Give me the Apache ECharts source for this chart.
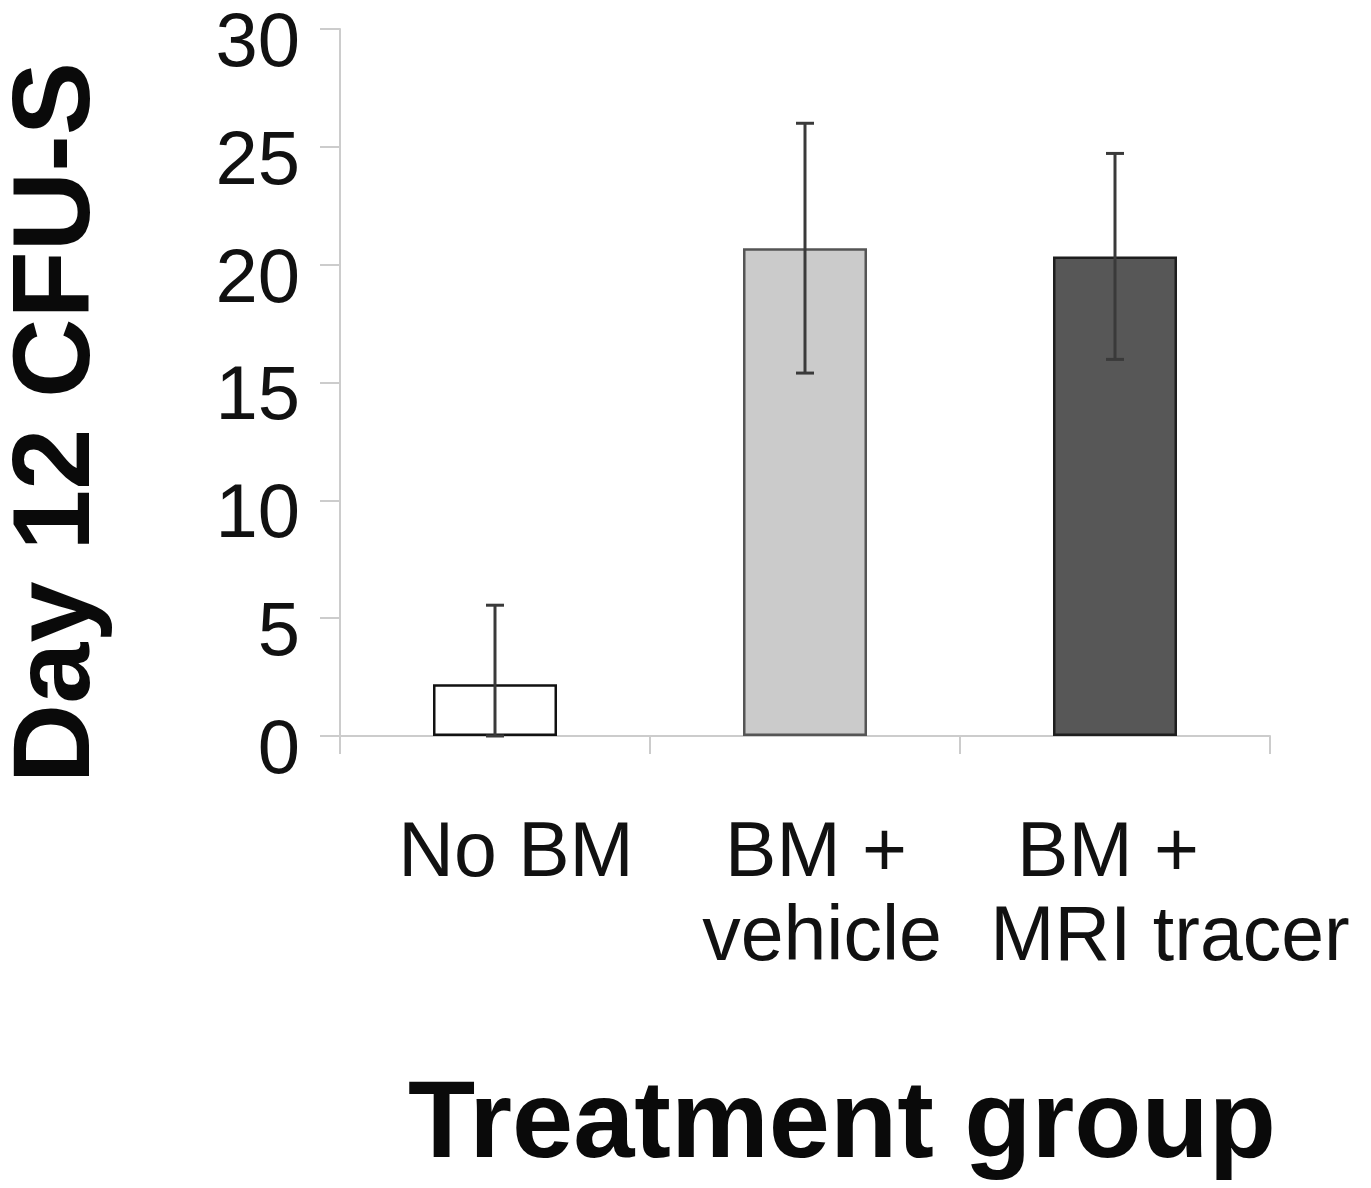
<!DOCTYPE html>
<html>
<head>
<meta charset="utf-8">
<script src="https://cdn.jsdelivr.net/npm/echarts@6/dist/echarts.min.js"></script>
<style>html,body{margin:0;padding:0;background:#fff;}#c{width:1371px;height:1188px;}</style>
</head>
<body>
<div id="c"></div>
<script>
// ---- data ----
var categories = ['No BM', 'BM +\nvehicle', 'BM +\nMRI tracer'];
var means = [2.2, 20.7, 20.35];
var errors = [3.35, 5.3, 4.37];
var yTicks = [0, 5, 10, 15, 20, 25, 30];

// ---- styles ----
var fills = ['#ffffff', '#cbcbcb', '#575757'];
var borders = ['#111111', '#555555', '#1e1e1e'];
var FONT = '"Liberation Sans", Arial, sans-serif';

var chart = echarts.init(document.getElementById('c'), null, {renderer: 'canvas'});

var barData = means.map(function (v, i) {
  return {value: v, itemStyle: {color: fills[i], borderColor: borders[i], borderWidth: 2.5}};
});
var errData = means.map(function (v, i) {
  return [i, Math.max(0, v - errors[i]), v + errors[i]];
});

var labelRich = {
  nb: {padding: [0, 0, 0, 42]},
  bv1: {padding: [0, 0, 0, 22]},
  bv2: {padding: [0, 0, 0, 34]},
  bm1: {padding: [0, 14, 0, 0]},
  bm2: {padding: [0, 0, 0, 110]}
};
var richKeys = [['nb'], ['bv1', 'bv2'], ['bm1', 'bm2']];

chart.setOption({
  animation: false,
  backgroundColor: '#ffffff',
  grid: {left: 340, right: 101, top: 29, bottom: 452, containLabel: false, outerBoundsMode: 'none'},
  xAxis: {
    type: 'category',
    data: categories,
    boundaryGap: true,
    name: 'Treatment group',
    nameLocation: 'middle',
    nameGap: 336,
    nameTextStyle: {fontFamily: FONT, fontWeight: 'bold', fontSize: 110, color: '#0a0a0a', lineHeight: 110, padding: [0, 0, 0, 74]},
    axisLine: {lineStyle: {color: '#cccccc', width: 2}},
    axisTick: {show: true, length: 18, lineStyle: {color: '#cccccc', width: 2}},
    axisLabel: {
      interval: 0,
      margin: 77,
      fontFamily: FONT,
      fontSize: 77,
      lineHeight: 84,
      color: '#111111',
      formatter: function (val, idx) {
        var lines = val.split('\n');
        return lines.map(function (l, j) { return '{' + richKeys[idx][j] + '|' + l + '}'; }).join('\n');
      },
      rich: (function () {
        var r = {};
        Object.keys(labelRich).forEach(function (k) {
          r[k] = Object.assign({fontFamily: FONT, fontSize: 77, lineHeight: 84, color: '#111111'}, labelRich[k]);
        });
        return r;
      })()
    },
    splitLine: {show: false}
  },
  yAxis: {
    type: 'value',
    min: yTicks[0],
    max: yTicks[yTicks.length - 1],
    interval: yTicks[1] - yTicks[0],
    name: 'Day 12 CFU-S',
    nameLocation: 'middle',
    nameGap: 226,
    nameRotate: 90,
    nameTextStyle: {fontFamily: FONT, fontWeight: 'bold', fontSize: 110, color: '#0a0a0a', lineHeight: 110, padding: [0, 80, 0, 0]},
    axisLine: {show: true, lineStyle: {color: '#cccccc', width: 2}},
    axisTick: {show: true, length: 20, lineStyle: {color: '#cccccc', width: 2}},
    axisLabel: {
      margin: 40,
      formatter: function (v) { return '{t|' + v + '}'; },
      rich: {t: {fontFamily: FONT, fontSize: 76, color: '#111111', lineHeight: 76, padding: [32, 0, 0, 0]}}
    },
    splitLine: {show: false}
  },
  series: [
    {
      type: 'bar',
      data: barData,
      barWidth: '40%',
      z: 2
    },
    {
      type: 'custom',
      z: 3,
      data: errData,
      encode: {x: 0, y: [1, 2]},
      renderItem: function (params, api) {
        var x = api.value(0);
        var lo = api.coord([x, api.value(1)]);
        var hi = api.coord([x, api.value(2)]);
        var cw = 9;
        var st = {stroke: '#3a3a3a', lineWidth: 3};
        return {
          type: 'group',
          children: [
            {type: 'line', shape: {x1: hi[0], y1: hi[1], x2: lo[0], y2: lo[1]}, style: st},
            {type: 'line', shape: {x1: hi[0] - cw, y1: hi[1], x2: hi[0] + cw, y2: hi[1]}, style: st},
            {type: 'line', shape: {x1: lo[0] - cw, y1: lo[1], x2: lo[0] + cw, y2: lo[1]}, style: st}
          ]
        };
      }
    }
  ]
});
</script>
</body>
</html>
